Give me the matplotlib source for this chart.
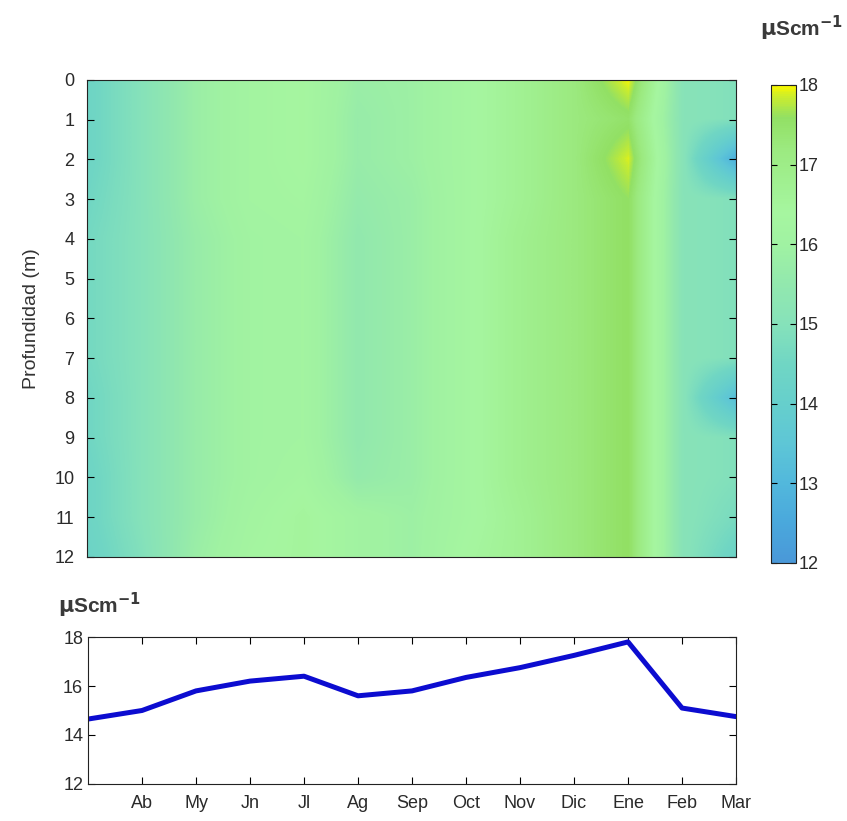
import matplotlib.pyplot as plt
import numpy as np
from matplotlib.colors import LinearSegmentedColormap

plt.rcParams['font.family'] = ['Liberation Sans', 'DejaVu Sans']

# Months (x = 0 .. 12, ticks at 1 .. 12)
months = ['Ab', 'My', 'Jn', 'Jl', 'Ag', 'Sep', 'Oct', 'Nov', 'Dic', 'Ene', 'Feb', 'Mar']
month_pos = [0, 1, 2, 3, 4, 5, 6, 7, 8, 9, 10, 11, 12]
depths = [0, 1, 2, 3, 4, 5, 6, 7, 8, 9, 10, 11, 12]

# Mean conductivity (uS/cm) per month
cond_mean = [14.65, 15.0, 15.8, 16.2, 16.4, 15.6, 15.8, 16.35, 16.75, 17.25, 17.8, 15.1, 14.75]

# Conductivity profile: one row per depth, one column per month
row_0 = [14.4, 15.0, 15.8, 16.2, 16.4, 15.8, 15.9, 16.3, 16.7, 17.2, 18.0, 15.1, 14.9]
row_1 = [14.4, 15.0, 15.8, 16.2, 16.4, 15.7, 15.9, 16.3, 16.7, 17.2, 17.5, 15.1, 14.9]
row_2 = [14.4, 15.0, 15.8, 16.2, 16.4, 15.7, 15.9, 16.3, 16.7, 17.2, 17.9, 15.1, 12.7]
row_3 = [14.5, 15.0, 15.8, 16.2, 16.3, 15.6, 15.8, 16.3, 16.7, 17.2, 17.6, 15.1, 14.9]
row_4 = [14.6, 15.0, 15.7, 16.1, 16.2, 15.5, 15.8, 16.3, 16.8, 17.2, 17.6, 15.1, 14.9]
row_5 = [14.6, 15.0, 15.7, 16.1, 16.2, 15.5, 15.8, 16.3, 16.8, 17.2, 17.6, 15.1, 14.9]
row_6 = [14.6, 15.0, 15.7, 16.1, 16.2, 15.5, 15.8, 16.3, 16.8, 17.2, 17.6, 15.1, 14.9]
row_7 = [14.6, 15.0, 15.7, 16.1, 16.2, 15.5, 15.8, 16.3, 16.8, 17.2, 17.6, 15.1, 14.9]
row_8 = [14.5, 15.0, 15.7, 16.1, 16.2, 15.5, 15.8, 16.3, 16.8, 17.2, 17.6, 15.1, 13.2]
row_9 = [14.5, 15.0, 15.7, 16.1, 16.2, 15.5, 15.8, 16.3, 16.8, 17.2, 17.6, 15.1, 14.9]
row_10 = [14.4, 15.0, 15.7, 16.1, 16.3, 15.6, 15.8, 16.3, 16.8, 17.2, 17.6, 15.1, 14.9]
row_11 = [14.4, 15.0, 15.7, 16.2, 16.5, 16.1, 15.9, 16.3, 16.7, 17.2, 17.6, 15.1, 14.7]
row_12 = [14.3, 14.9, 15.8, 16.3, 16.5, 16.1, 15.9, 16.4, 16.7, 17.2, 17.6, 15.1, 14.3]

profile = np.array([row_0, row_1, row_2, row_3, row_4, row_5, row_6,
                    row_7, row_8, row_9, row_10, row_11, row_12])

# Colormap (value, colour)
cmap_stops = [(12.0, '#4a98d8'), (12.5, '#4aa8dc'), (13.0, '#52b8dc'),
              (13.5, '#5ec6d6'), (14.0, '#66cfcc'), (14.5, '#70d6c4'),
              (15.0, '#86e2ba'), (15.5, '#92e8ae'), (16.0, '#a0f2a2'),
              (16.4, '#a6f6a0'), (16.8, '#a0f090'), (17.2, '#9cea80'),
              (17.6, '#92e064'), (17.85, '#c8ec30'), (18.0, '#f8f800')]
vmin, vmax = 12, 18
cmap = LinearSegmentedColormap.from_list(
    'cond', [((v - vmin) / (vmax - vmin), c) for v, c in cmap_stops])

fig = plt.figure(figsize=(8.47, 8.21), dpi=100)
txt_color = '#2a2a2a'

# ---- top: depth-time map ----
ax = fig.add_axes([0.1027, 0.3216, 0.7663, 0.581])
im = ax.imshow(profile, cmap=cmap, vmin=vmin, vmax=vmax, aspect='auto',
               interpolation='bilinear', interpolation_stage='data',
               extent=[month_pos[0] - 0.5, month_pos[-1] + 0.5,
                       depths[-1] + 0.5, depths[0] - 0.5])
ax.set_xlim(0, 12)
ax.set_ylim(12, 0)
ax.set_yticks(depths)
ax.set_xticks([])
ax.tick_params(axis='y', direction='in', left=True, right=True, length=5,
               labelsize=13, labelcolor=txt_color, pad=9)
ax.set_ylabel('Profundidad (m)', fontsize=14, color='#333333', labelpad=10)
for s in ax.spines.values():
    s.set_color('#222222')

cax = fig.add_axes([0.910, 0.3143, 0.0295, 0.5822])
cb = fig.colorbar(im, cax=cax, ticks=[12, 13, 14, 15, 16, 17, 18])
cb.outline.set_edgecolor('#222222')
cax.tick_params(direction='in', left=True, right=True, length=4,
                labelsize=13, labelcolor=txt_color, pad=2)
fig.text(0.995, 0.966, r'$\mathbf{\mu}$Scm$^{\mathbf{-1}}$', ha='right', va='center',
         fontsize=15, fontweight='bold', color='#3a3a3a')

# ---- bottom: mean conductivity ----
ax2 = fig.add_axes([0.1039, 0.0451, 0.7651, 0.179])
ax2.plot(month_pos, cond_mean, color='#0c0cd0', linewidth=3.6)
ax2.set_xlim(0, 12)
ax2.set_ylim(12, 18)
ax2.set_yticks([12, 14, 16, 18])
ax2.set_xticks(month_pos[1:])
ax2.set_xticklabels(months)
ax2.tick_params(direction='in', top=True, right=True, length=5,
                labelsize=13, labelcolor=txt_color)
ax2.tick_params(axis='x', pad=8)
for s in ax2.spines.values():
    s.set_color('#222222')
fig.text(0.068, 0.263, r'$\mathbf{\mu}$Scm$^{\mathbf{-1}}$', ha='left', va='center',
         fontsize=15, fontweight='bold', color='#3a3a3a')

fig.savefig('out.png', dpi=100)
